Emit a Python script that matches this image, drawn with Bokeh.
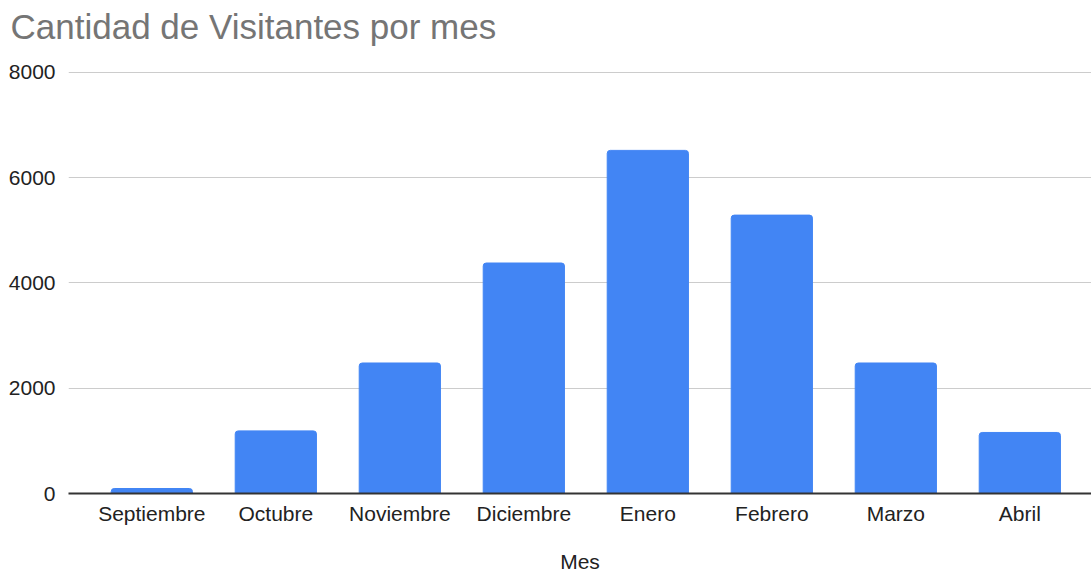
from bokeh.plotting import figure
from bokeh.models import Range1d, FixedTicker, ColumnDataSource
from bokeh.embed import file_html
from bokeh.resources import INLINE

meses = ["Septiembre", "Octubre", "Noviembre", "Diciembre", "Enero", "Febrero", "Marzo", "Abril"]
visitantes = [95, 1190, 2480, 4380, 6520, 5290, 2480, 1160]
y_ticks = [0, 2000, 4000, 6000, 8000]
titulo = "Cantidad de Visitantes por mes"

idx = list(range(len(meses)))
src = ColumnDataSource(dict(x=idx, top=visitantes, mes=meses))

FONT = "Liberation Sans"

# frame spans 45..493 px; 8000 sits at 72 px -> range end 8000*448/421
p = figure(width=1091, height=575, output_backend="svg", toolbar_location=None,
           x_range=Range1d(-0.672, 7.578), y_range=Range1d(0, 8513),
           min_border_left=68, min_border_right=0, min_border_top=45, min_border_bottom=82,
           title=titulo)
p.outline_line_color = None

p.vbar(x="x", top="top", width=0.655, source=src, color="#4285F4",
       border_radius=(3, 3, 0, 0))

p.title.text_font = FONT
p.title.text_font_size = "35px"
p.title.text_font_style = "normal"
p.title.text_color = "#757575"
p.title.offset = -58
p.title.standoff = 0
p.title.vertical_align = "bottom"

# y axis
p.yaxis.ticker = FixedTicker(ticks=y_ticks)
p.yaxis.axis_line_color = None
p.yaxis.major_tick_line_color = None
p.yaxis.minor_tick_line_color = None
p.yaxis.major_label_text_font = FONT
p.yaxis.major_label_text_font_size = "21px"
p.yaxis.major_label_text_color = "#222222"
p.yaxis.major_label_standoff = 7

p.ygrid.grid_line_color = "#cccccc"
p.ygrid.grid_line_width = 1
p.xgrid.grid_line_color = None

# x axis
p.xaxis.ticker = FixedTicker(ticks=idx)
p.xaxis.major_label_overrides = {i: m for i, m in zip(idx, meses)}
p.xaxis.axis_line_color = "#333333"
p.xaxis.axis_line_width = 2
p.xaxis.major_tick_line_color = None
p.xaxis.minor_tick_line_color = None
p.xaxis.major_label_text_font = FONT
p.xaxis.major_label_text_font_size = "21px"
p.xaxis.major_label_text_color = "#222222"
p.xaxis.major_label_standoff = 2
p.xaxis.axis_label = "Mes"
p.xaxis.axis_label_text_font = FONT
p.xaxis.axis_label_text_font_size = "21px"
p.xaxis.axis_label_text_font_style = "normal"
p.xaxis.axis_label_text_color = "#222222"
p.xaxis.axis_label_standoff = 22

open("out.html", "w").write(file_html(p, INLINE))
